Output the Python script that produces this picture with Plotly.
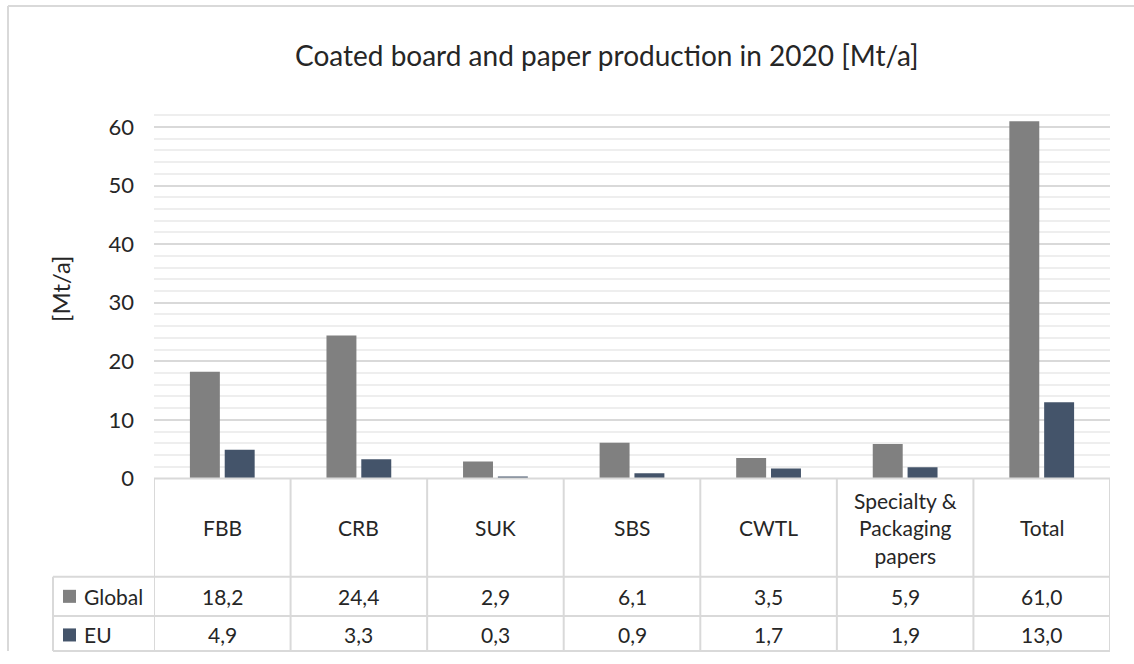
import plotly.graph_objects as go

W, H = 1134, 664
K = 649 / 664  # vertical squeeze seen between page pixels and the captured picture

categories = ["FBB", "CRB", "SUK", "SBS", "CWTL", "Specialty &<br>Packaging<br>papers", "Total"]
global_vals = [18.2, 24.4, 2.9, 6.1, 3.5, 5.9, 61.0]
eu_vals = [4.9, 3.3, 0.3, 0.9, 1.7, 1.9, 13.0]
series_names = ["Global", "EU"]
series_colors = ["#808080", "#44546a"]
y_ticks = [0, 10, 20, 30, 40, 50, 60]

FONT = "Lato, Calibri, sans-serif"
TXT = "#262626"
GRID = "#d9d9d9"


def px_x(p):
    return p / W


def px_y(p):
    return max(0.0, 1 - (p / K) / H)


# pixel frame of the plot area and data table (as seen in the picture)
left, right = 154, 1110
zero_y, top_y = 477, 103.3
row_global, row_eu, row_end = 575, 614, 652
legend_left = 53

fig = go.Figure()
for name, vals, col in zip(series_names, [global_vals, eu_vals], series_colors):
    fig.add_trace(go.Bar(x=list(range(len(categories))), y=vals, name=name, marker=dict(color=col, line_width=0)))

fig.update_layout(
    width=W,
    height=H,
    margin=dict(l=0, r=0, t=0, b=0),
    paper_bgcolor="white",
    plot_bgcolor="white",
    barmode="group",
    bargap=0.49,
    bargroupgap=0.14,
    showlegend=False,
    font=dict(family=FONT, color=TXT, size=21),
)
fig.update_xaxes(
    domain=[px_x(left), px_x(right)],
    range=[-0.5, len(categories) - 0.5],
    showticklabels=False,
    showgrid=False,
    zeroline=False,
    ticks="",
)
fig.update_yaxes(
    domain=[px_y(zero_y), px_y(top_y)],
    range=[0, 64],
    tickvals=y_ticks,
    showgrid=True,
    gridcolor=GRID,
    gridwidth=1.5,
    zeroline=False,
    ticks="",
    ticklabelstandoff=19,
    tickfont=dict(size=22, color=TXT),
    minor=dict(dtick=2, showgrid=True, gridcolor="#eeeeee", gridwidth=1.5, ticks=""),
)

shapes = []
line = dict(color=GRID, width=2)
# outer chart border (top and left edges)
shapes.append(dict(type="line", xref="paper", yref="paper", x0=px_x(8), x1=1, y0=px_y(6), y1=px_y(6), line=line))
shapes.append(dict(type="line", xref="paper", yref="paper", x0=px_x(8), x1=px_x(8), y0=px_y(6), y1=0, line=line))
# table: top line (axis), row lines
shapes.append(dict(type="line", xref="paper", yref="paper", x0=px_x(left), x1=px_x(right), y0=px_y(zero_y), y1=px_y(zero_y), line=line))
for yy in [row_global, row_eu, row_end]:
    shapes.append(dict(type="line", xref="paper", yref="paper", x0=px_x(legend_left), x1=px_x(right), y0=px_y(yy), y1=px_y(yy), line=line))
shapes.append(dict(type="line", xref="paper", yref="paper", x0=px_x(legend_left), x1=px_x(legend_left), y0=px_y(row_global), y1=px_y(row_end), line=line))
for i in range(len(categories) + 1):
    shapes.append(dict(type="line", xref="x", yref="paper", x0=i - 0.5, x1=i - 0.5, y0=px_y(zero_y), y1=px_y(row_end), line=line))

mid = dict(xanchor="center", yanchor="middle", showarrow=False)
annotations = []
annotations.append(dict(
    text="Coated board and paper production in 2020 [Mt/a]", xref="paper", yref="paper",
    x=px_x(607), y=px_y(55), font=dict(size=28, color=TXT), **mid,
))
annotations.append(dict(
    text="[Mt/a]", xref="paper", yref="paper", x=px_x(61), y=px_y(288), textangle=-90,
    font=dict(size=24, color=TXT), **mid,
))
for i, cat in enumerate(categories):
    annotations.append(dict(text=cat, xref="x", yref="paper", x=i, y=px_y((zero_y + row_global) / 2),
                            font=dict(size=21, color=TXT), **mid))
    for vals, y0, y1 in [(global_vals, row_global, row_eu), (eu_vals, row_eu, row_end)]:
        annotations.append(dict(text=f"{vals[i]:.1f}".replace(".", ","), xref="x", yref="paper", x=i,
                                y=px_y((y0 + y1) / 2), font=dict(size=21, color=TXT), **mid))

# legend keys in the table's first column
for name, col, y0, y1 in zip(series_names, series_colors, [row_global, row_eu], [row_eu, row_end]):
    yc = (y0 + y1) / 2
    shapes.append(dict(type="rect", xref="paper", yref="paper", x0=px_x(63), x1=px_x(76),
                       y0=px_y(yc - 6.5), y1=px_y(yc + 6.5), fillcolor=col, line_width=0))
    annotations.append(dict(text=name, xref="paper", yref="paper", x=px_x(82), y=px_y(yc),
                            xanchor="left", yanchor="middle", showarrow=False, font=dict(size=21, color=TXT)))

fig.update_layout(shapes=shapes, annotations=annotations)
# drop the default page margin so the figure fills the window exactly
fig.write_html(
    "out.html",
    config={"displayModeBar": False},
    post_script="document.body.style.margin='0';document.body.style.overflow='hidden';",
)
